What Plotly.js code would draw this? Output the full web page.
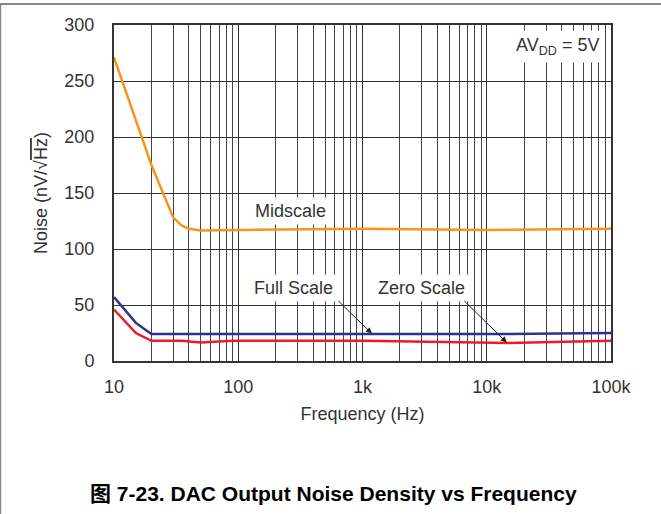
<!DOCTYPE html>
<html>
<head>
<meta charset="utf-8">
<script src="https://cdn.plot.ly/plotly-3.0.1.min.js"></script>
<style>html,body{margin:0;padding:0;background:#fff;}#chart{width:661px;height:514px;}</style>
</head>
<body>
<div id="chart"></div>
<script>
// Data
var midFreq  = [10, 20, 30, 35, 40, 50, 100, 1000, 10000, 100000];
var midNoise = [271, 175, 128, 121, 118, 116.5, 117, 118, 117, 118];

var fullFreq  = [10, 15, 20, 100, 1000, 10000, 100000];
var fullNoise = [57, 34, 24, 24, 24, 24, 25];

var zeroFreq  = [10, 15, 20, 35, 50, 90, 1000, 10000, 15000, 100000];
var zeroNoise = [46, 25, 18, 18, 16.5, 18, 18, 16.5, 16, 18];

var xTickVals = [10, 100, 1000, 10000, 100000];
var xTickText = ['10', '100', '1k', '10k', '100k'];
var yTickVals = [0, 50, 100, 150, 200, 250, 300];

var FONT = 'Liberation Sans, Arial, Helvetica, sans-serif';
var FS = 18;

var traces = [
  {x: midFreq, y: midNoise, type: 'scatter', mode: 'lines', name: 'Midscale',
   line: {color: '#F7941D', width: 2.5}, hoverinfo: 'skip'},
  {x: fullFreq, y: fullNoise, type: 'scatter', mode: 'lines', name: 'Full Scale',
   line: {color: '#2E3192', width: 2.5}, hoverinfo: 'skip'},
  {x: zeroFreq, y: zeroNoise, type: 'scatter', mode: 'lines', name: 'Zero Scale',
   line: {color: '#ED1C24', width: 2.5}, hoverinfo: 'skip'}
];

var layout = {
  width: 661, height: 514,
  margin: {l: 114, r: 50, t: 25, b: 153},
  paper_bgcolor: '#fff', plot_bgcolor: '#fff',
  showlegend: false,
  font: {family: FONT, size: FS, color: '#333'},
  xaxis: {
    type: 'log', range: [1, 5],
    tickvals: xTickVals, ticktext: xTickText,
    ticks: '', ticklabelstandoff: 8,
    showgrid: true, gridcolor: '#333', gridwidth: 1,
    minor: {dtick: 'D1', showgrid: true, gridcolor: '#444', gridwidth: 1, ticks: ''},
    showline: true, mirror: true, linecolor: '#333', linewidth: 2,
    zeroline: false,
    title: {text: 'Frequency (Hz)', font: {size: FS, color: '#333'}, standoff: 12},
    tickfont: {size: FS, color: '#333'}
  },
  yaxis: {
    range: [0, 300], tickvals: yTickVals,
    ticks: '', ticklabelstandoff: 14,
    showgrid: true, gridcolor: '#333', gridwidth: 1,
    showline: true, mirror: true, linecolor: '#333', linewidth: 2,
    zeroline: false,
    title: {text: 'Noise (nV/√<span style="text-decoration:overline">Hz</span>)', font: {size: FS, color: '#333'}, standoff: 12},
    tickfont: {size: FS, color: '#333'}
  },
  annotations: [
    {xref: 'x', yref: 'y', x: Math.log10(37400), y: 281,
     text: 'AV<sub>DD</sub> = 5V', showarrow: false, xanchor: 'center', yanchor: 'middle',
     bgcolor: '#fff', borderpad: 4, font: {size: FS, color: '#333'}},
    {xref: 'x', yref: 'y', x: Math.log10(261), y: 133.5,
     text: 'Midscale', showarrow: false, bgcolor: '#fff', borderpad: 3,
     font: {size: FS, color: '#333'}},
    {xref: 'x', yref: 'y', x: Math.log10(278), y: 65,
     text: 'Full Scale', showarrow: false, bgcolor: '#fff', borderpad: 3,
     font: {size: FS, color: '#333'}},
    {xref: 'x', yref: 'y', x: Math.log10(2985), y: 65,
     text: 'Zero Scale', showarrow: false, bgcolor: '#fff', borderpad: 3,
     font: {size: FS, color: '#333'}},
    {xref: 'x', yref: 'y', x: Math.log10(1190), y: 24.5, text: '',
     showarrow: true, arrowhead: 2, arrowsize: 1.2, arrowwidth: 1, arrowcolor: '#222',
     ax: -35, ay: -34},
    {xref: 'x', yref: 'y', x: Math.log10(14500), y: 16.5, text: '',
     showarrow: true, arrowhead: 2, arrowsize: 1.2, arrowwidth: 1, arrowcolor: '#222',
     ax: -44, ay: -43},
    {xref: 'paper', yref: 'paper', x: (333 - 114) / 497, y: (361 - 493) / 336,
     text: '<b>图 7-23. DAC Output Noise Density vs Frequency</b>', showarrow: false,
     xanchor: 'center', yanchor: 'middle',
     font: {family: 'Liberation Sans, Arial, Noto Sans CJK SC, sans-serif', size: 21, color: '#000'}}
  ],
  shapes: [
    {type: 'line', xref: 'paper', yref: 'paper',
     x0: -114 / 497, x1: 547 / 497, y0: (361 - 4) / 336, y1: (361 - 4) / 336,
     line: {color: '#888', width: 2}},
    {type: 'line', xref: 'paper', yref: 'paper',
     x0: (0.5 - 114) / 497, x1: (0.5 - 114) / 497, y0: (361 - 4) / 336, y1: (361 - 514) / 336,
     line: {color: '#888', width: 1.5}}
  ]
};

Plotly.newPlot('chart', traces, layout, {staticPlot: true, displayModeBar: false});
</script>
</body>
</html>
